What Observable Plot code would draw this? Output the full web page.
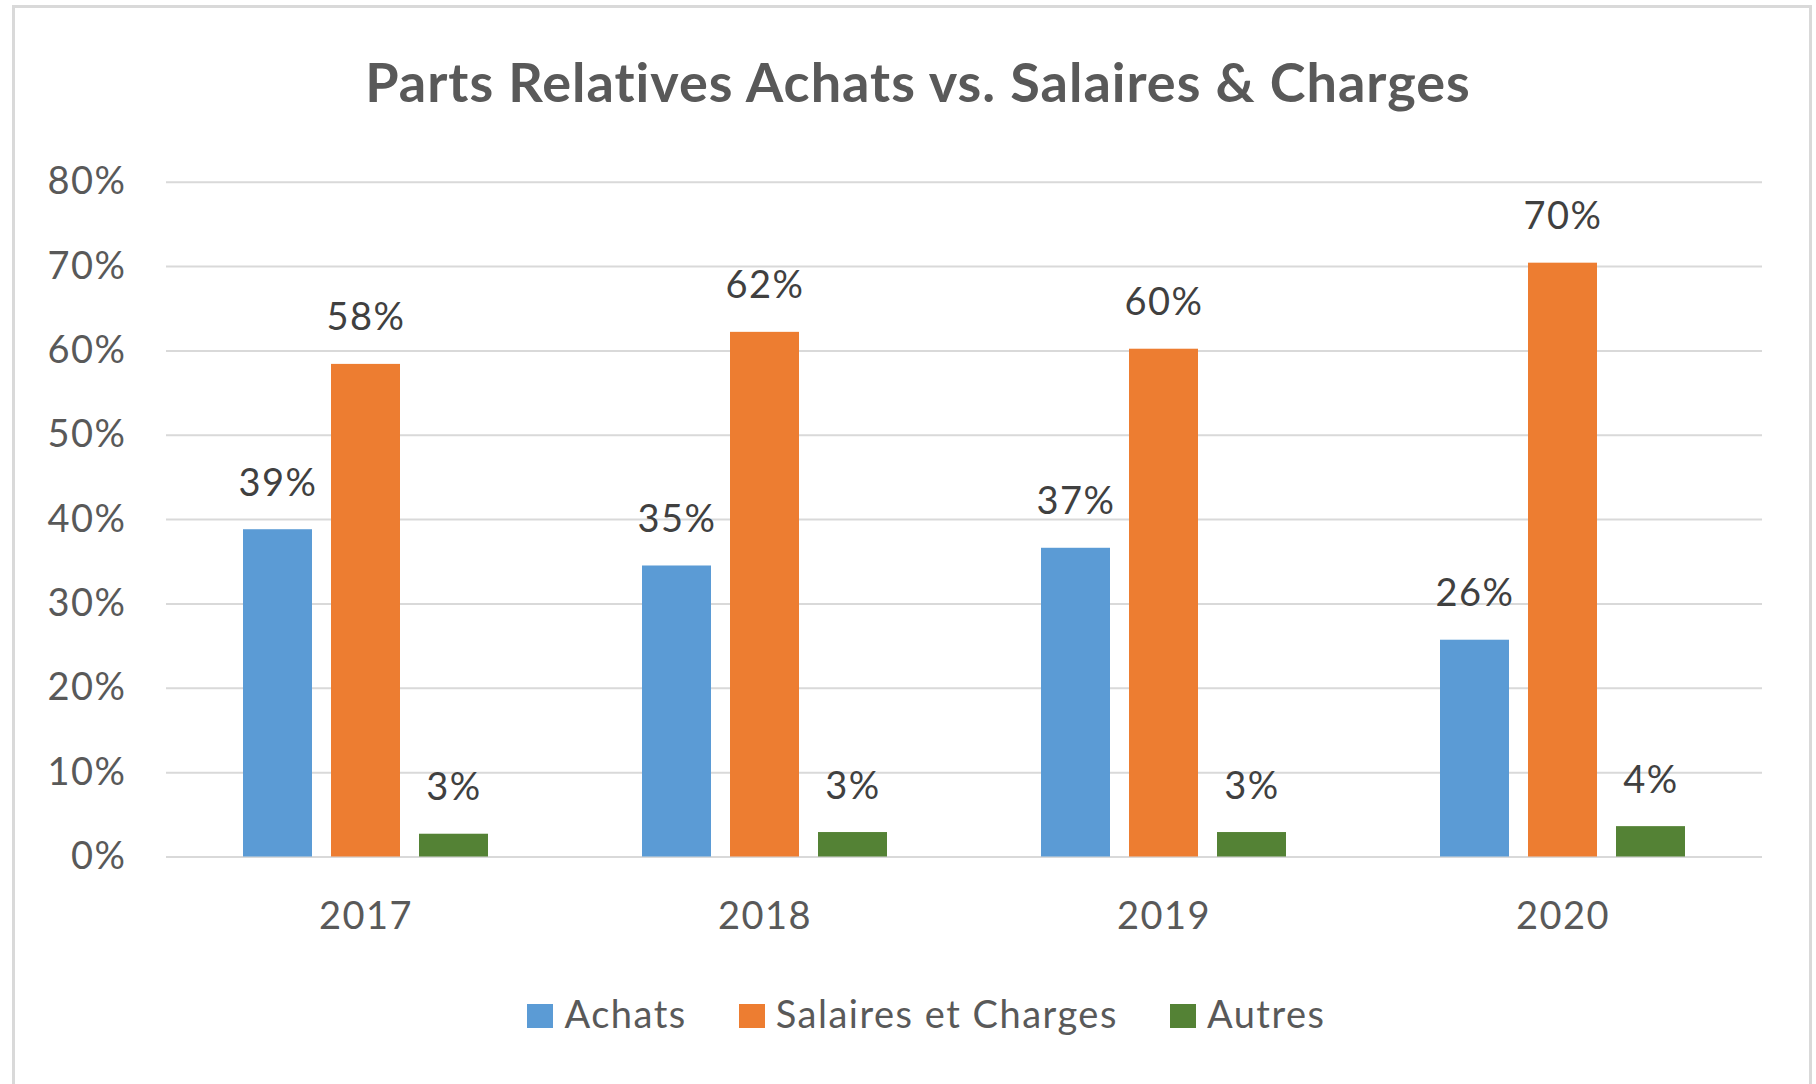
<!DOCTYPE html>
<html>
<head>
<meta charset="utf-8">
<script src="https://cdn.jsdelivr.net/npm/d3@7"></script>
<script src="https://cdn.jsdelivr.net/npm/@observablehq/plot@0.6"></script>
<style>
  html, body { margin: 0; padding: 0; background: #ffffff; overflow: hidden; }
  body { width: 1816px; height: 1084px; position: relative; font-family: Lato, "Open Sans", sans-serif; }
  #frame { position: absolute; left: 12px; top: 5px; width: 1800px; height: 1100px; border: 3px solid #d9d9d9; box-sizing: border-box; }
  #title { position: absolute; left: 0; top: 55px; width: 1836px; text-align: center; font-size: 54px; line-height: 54px; font-weight: 700; color: #595959; white-space: nowrap; letter-spacing: 1px; }
  #chart { position: absolute; left: 0; top: 0; }
  #legend { position: absolute; left: 0; top: 994px; width: 1853px; display: flex; justify-content: center; align-items: center; font-size: 38px; line-height: 38px; color: #595959; white-space: nowrap; letter-spacing: 1.5px; }
  .item { display: flex; align-items: center; margin: 0 26px; }
  .sw { width: 26px; height: 24px; margin-right: 11px; margin-top: 6px; }
</style>
</head>
<body>
<div id="frame"></div>
<div id="title">Parts Relatives Achats vs. Salaires &amp; Charges</div>
<div id="chart"></div>
<div id="legend"></div>
<script>
// ---- data ----
const years = ["2017", "2018", "2019", "2020"];
const series = ["Achats", "Salaires et Charges", "Autres"];
const achats = [38.8, 34.5, 36.6, 25.7];
const salaires = [58.4, 62.2, 60.2, 70.4];
const autres = [2.7, 2.9, 2.9, 3.6];
const yTicks = [0, 10, 20, 30, 40, 50, 60, 70, 80];
const colors = ["#5B9BD5", "#ED7D31", "#548235"];

const valuesBySeries = [achats, salaires, autres];
const data = [];
years.forEach((year, i) => {
  series.forEach((s, j) => {
    data.push({year, series: s, value: valuesBySeries[j][i]});
  });
});

const chart = Plot.plot({
  width: 1816,
  height: 960,
  marginLeft: 165,
  marginRight: 53,
  marginTop: 181.7,
  marginBottom: 103.5,
  style: {fontFamily: "Lato, 'Open Sans', sans-serif", background: "transparent", overflow: "visible", letterSpacing: "1.5px"},
  fx: {domain: years, padding: 0},
  x: {domain: series, paddingInner: 0.2135, paddingOuter: 0.851, axis: null},
  y: {domain: [0, 80]},
  color: {domain: series, range: colors},
  marks: [
    Plot.gridY(yTicks, {stroke: "#d9d9d9", strokeOpacity: 1, strokeWidth: 2}),
    Plot.axisY(yTicks, {tickSize: 0, tickPadding: 40, tickFormat: d => d + "%", fontSize: 38, color: "#595959", label: null}),
    Plot.axisFx({anchor: "bottom", tickSize: 0, tickPadding: 45, fontSize: 38, color: "#595959", label: null}),
    Plot.barY(data, {fx: "year", x: "series", y: "value", fill: "series"}),
    Plot.text(data, {fx: "year", x: "series", y: "value", text: d => Math.round(d.value) + "%", dy: -34, lineAnchor: "bottom", fontSize: 38, fill: "#404040"})
  ]
});
document.getElementById("chart").appendChild(chart);

const legend = document.getElementById("legend");
series.forEach((s, j) => {
  const item = document.createElement("div");
  item.className = "item";
  const sw = document.createElement("div");
  sw.className = "sw";
  sw.style.background = colors[j];
  const label = document.createElement("span");
  label.textContent = s;
  item.appendChild(sw);
  item.appendChild(label);
  legend.appendChild(item);
});
</script>
</body>
</html>
